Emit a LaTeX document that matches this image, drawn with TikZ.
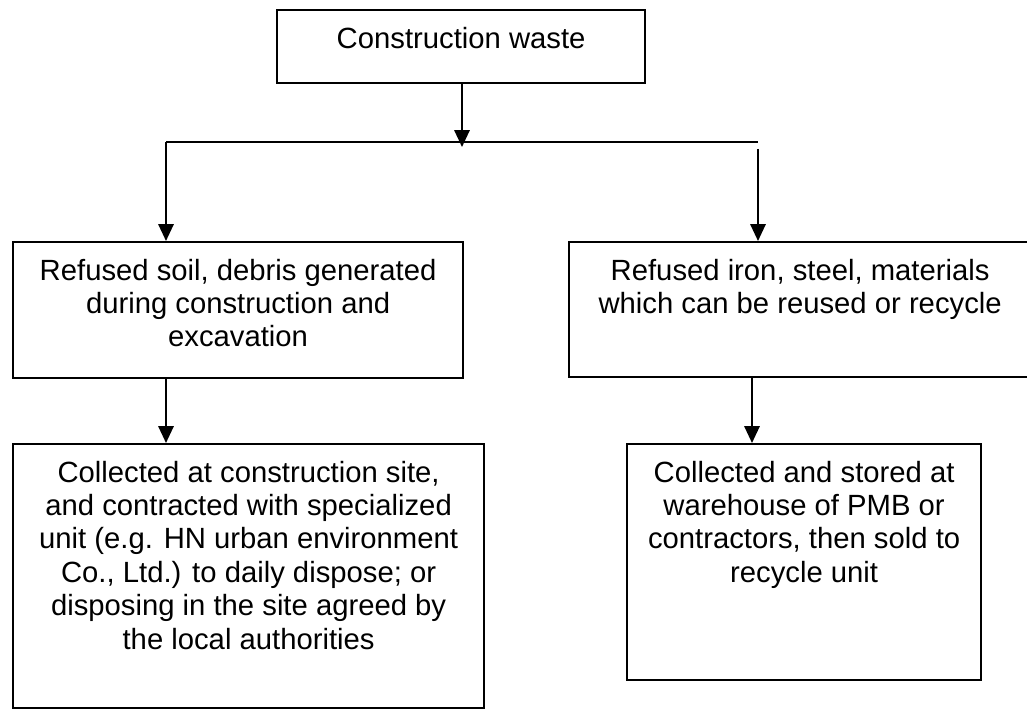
\documentclass[tikz,border=0pt]{standalone}
\usepackage{fontspec}
\setmainfont{Liberation Sans}
\usetikzlibrary{arrows.meta}

\tikzset{
	box/.style={draw,line width=1.5pt,inner sep=0pt,anchor=north west,
		font=\fontsize{20.8}{23.8}\selectfont},
	flow/.style={line width=1.5pt,-{Triangle[length=0.42cm,width=0.38cm]}},
}
% text sits at the top of each box
\newcommand{\toptext}[3]{\parbox[c][#2][t]{#1}{\vspace*{0.42cm}\centering #3}}

\begin{document}
\begin{tikzpicture}[x=0.025cm,y=-0.025cm]
	\useasboundingbox (0,0) rectangle (1027,709);
	
	\node[box] (Waste) at (276,9) {\toptext{9.2cm}{1.825cm}{Construction waste}};
	\node[box] (Soil)  at (12,241) {\toptext{11.25cm}{3.4cm}{Refused soil, debris generated\\ during construction and\\ excavation}};
	\node[box] (Iron)  at (568,241) {\toptext{11.55cm}{3.375cm}{Refused iron, steel, materials\\ which can be reused or recycle}};
	\node[box] (Site)  at (12,443) {\toptext{11.775cm}{6.6cm}{Collected at construction site,\\ and contracted with specialized\\ unit (e.g. HN urban environment\\ Co., Ltd.) to daily dispose; or\\ disposing in the site agreed by\\ the local authorities}};
	\node[box] (Store) at (626,443) {\toptext{8.85cm}{5.9cm}{Collected and stored at\\ warehouse of PMB or\\ contractors, then sold to\\ recycle unit}};
	
	\coordinate (Split)  at (462,147);
	\coordinate (Hleft)  at (166,142);
	\coordinate (Hright) at (758,142);
	\coordinate (Rtop)   at (758,149);
	\coordinate (Rlow)   at (752,376);
	
	\draw [flow] (Waste.south -| Split) -- (Split);
	\draw [line width=1.1pt] (Hleft) -- (Hright);
	\draw [flow] (Hleft) -- (Hleft |- Soil.north);
	\draw [flow] (Rtop) -- (Rtop |- Iron.north);
	\draw [flow] (Hleft |- Soil.south) -- (Hleft |- Site.north);
	\draw [flow] (Rlow |- Iron.south) -- (Rlow |- Store.north);
\end{tikzpicture}
\end{document}
